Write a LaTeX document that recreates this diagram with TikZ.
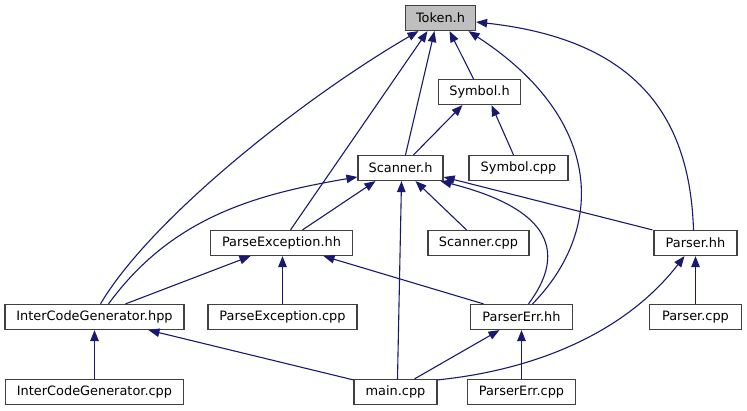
\documentclass[tikz,border=0pt]{standalone}
\usepackage{fontspec}
\setmainfont{DejaVu Sans}
\usetikzlibrary{arrows.meta}
\definecolor{edgeblue}{HTML}{191970}
\definecolor{boxline}{HTML}{404040}
\definecolor{rootfill}{HTML}{BFBFBF}
\tikzset{
  hdr/.style={draw=boxline, line width=1.2pt, fill=white, minimum height=25pt,
    inner xsep=4pt, inner ysep=0pt, font=\fontsize{12.9}{14}\selectfont},
  root/.style={hdr, fill=rootfill},
  incl/.style={draw=edgeblue, line width=1.1pt, -{Triangle[length=11pt,width=8.5pt]}},
}
\begin{document}
\begin{tikzpicture}[x=1pt, y=-1pt]

\useasboundingbox (0,0) rectangle (747,411);

% header files and sources, one row per graph rank
\node[root, minimum width=70pt]  (tokenh)       at (440.5,18)  {Token.h};
\node[hdr, minimum width=82pt]   (symbolh)      at (479.5,92)  {Symbol.h};
\node[hdr, minimum width=85pt]   (scannerh)     at (400.5,168) {Scanner.h};
\node[hdr, minimum width=99pt]   (symbolcpp)    at (518.5,168) {Symbol.cpp};
\node[hdr, minimum width=142pt]  (parseexh)     at (281.5,243) {ParseException.hh};
\node[hdr, minimum width=101pt]  (scannercpp)   at (478.5,243) {Scanner.cpp};
\node[hdr, minimum width=83pt]   (parserhh)     at (695.5,243) {Parser.hh};
\node[hdr, minimum width=179pt]  (icghpp)       at (94.5,317)  {InterCodeGenerator.hpp};
\node[hdr, minimum width=149pt]  (parseexcpp)   at (282.5,317) {ParseException.cpp};
\node[hdr, minimum width=102pt]  (parsererrhh)  at (521.5,317) {ParserErr.hh};
\node[hdr, minimum width=92pt]   (parsercpp)    at (695.5,317) {Parser.cpp};
\node[hdr, minimum width=178pt]  (icgcpp)       at (94.5,392)  {InterCodeGenerator.cpp};
\node[hdr, minimum width=83pt]   (maincpp)      at (395.5,392) {main.cpp};
\node[hdr, minimum width=108pt]  (parsererrcpp) at (521.5,392) {ParserErr.cpp};

% includes of Token.h
\draw[incl] ([xshift=-6pt]symbolh.north) -- ([xshift=9pt]tokenh.south);
\draw[incl] ([xshift=5pt]scannerh.north) -- ([xshift=-6pt]tokenh.south);
\draw[incl] ([xshift=9pt]parseexh.north) -- ([xshift=-13pt]tokenh.south);
\draw[incl] ([xshift=6pt]icghpp.north)
  .. controls (150,220) and (300,100) .. ([xshift=-22pt]tokenh.south);
\draw[incl] ([xshift=11pt]parsererrhh.north)
  .. controls (605,230) and (605,120) .. ([xshift=28pt]tokenh.south);
\draw[incl] ([xshift=-2pt]parserhh.north)
  .. controls (690,120) and (640,40) .. ([yshift=-4pt]tokenh.east);

% includes of Symbol.h
\draw[incl] ([xshift=-5pt]symbolcpp.north) -- ([xshift=12pt]symbolh.south);
\draw[incl] ([xshift=13pt]scannerh.north) -- ([xshift=-17pt]symbolh.south);

% includes of Scanner.h
\draw[incl] ([xshift=21pt]parseexh.north) -- ([xshift=-25pt]scannerh.south);
\draw[incl] ([xshift=14pt]icghpp.north)
  .. controls (170,220) and (250,195) .. ([yshift=-9pt]scannerh.west);
\draw[incl] ([xshift=-12pt]scannercpp.north) -- ([xshift=15pt]scannerh.south);
\draw[incl] ([xshift=2pt]maincpp.north) -- ([xshift=1pt]scannerh.south);
\draw[incl] ([xshift=7pt]parsererrhh.north)
  .. controls (565,255) and (555,210) .. ([xshift=40pt]scannerh.south);
\draw[incl] ([xshift=-1pt]parserhh.north west) -- ([yshift=-9pt]scannerh.east);

% includes of ParseException.hh
\draw[incl] ([xshift=31pt]icghpp.north) -- ([xshift=-31pt]parseexh.south);
\draw[incl] (parseexcpp.north) -- (parseexcpp.north |- parseexh.south);
\draw[incl] ([xshift=-38pt]parsererrhh.north) -- ([xshift=42pt]parseexh.south);

% includes of Parser.hh
\draw[incl] ([yshift=-1pt]maincpp.north east)
  .. controls (535,370) and (625,333) .. ([xshift=-11pt]parserhh.south);
\draw[incl] (parsercpp) -- (parserhh);

% includes of InterCodeGenerator.hpp
\draw[incl] (icgcpp) -- (icghpp);
\draw[incl] ([yshift=-1pt]maincpp.north west) -- ([xshift=54pt]icghpp.south);

% includes of ParserErr.hh
\draw[incl] ([xshift=19pt]maincpp.north) -- ([xshift=-22pt]parsererrhh.south);
\draw[incl] (parsererrcpp) -- (parsererrhh);

\end{tikzpicture}
\end{document}
